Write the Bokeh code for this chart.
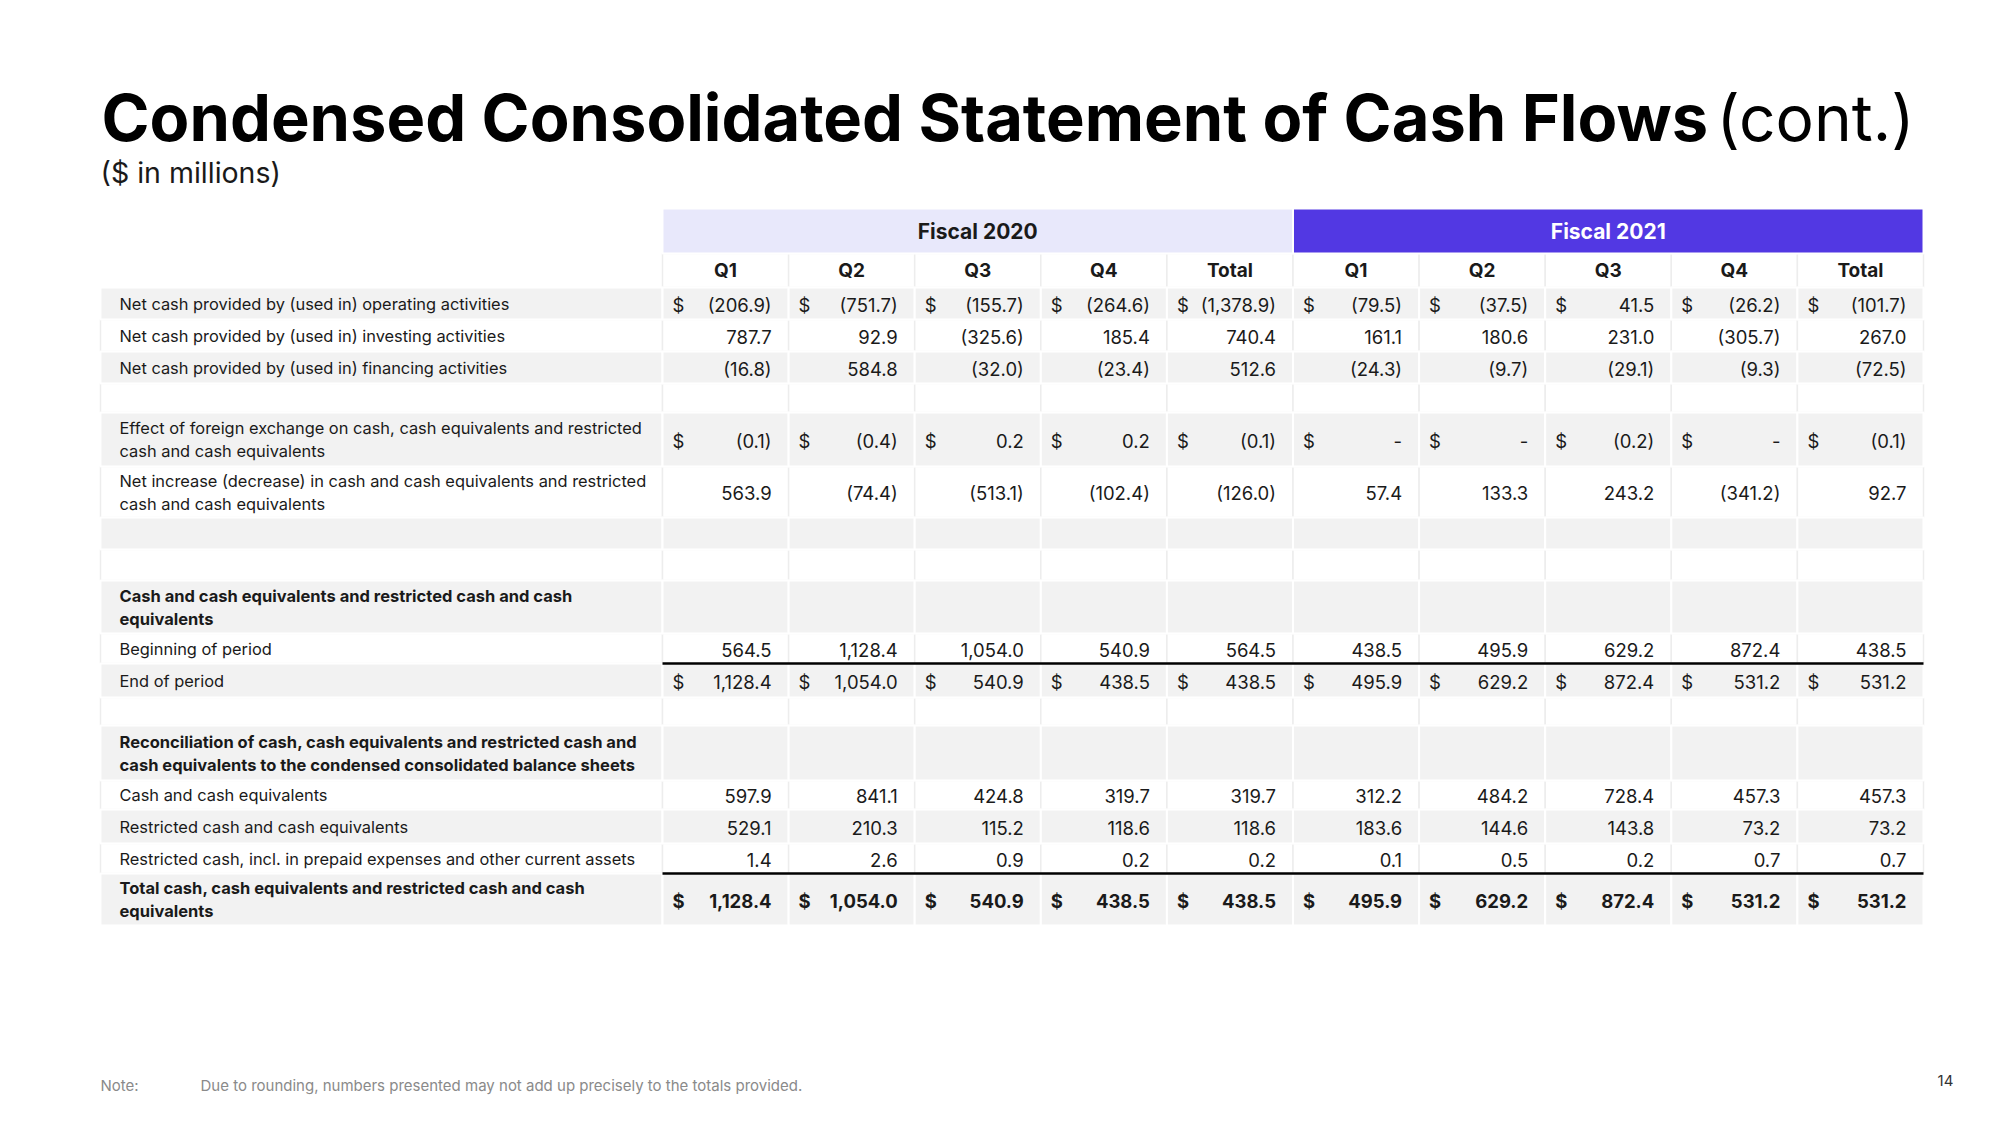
from bokeh.plotting import figure
from bokeh.models import ColumnDataSource, Range1d
from bokeh.core.properties import value
from bokeh.embed import file_html
from bokeh.resources import INLINE

# ---------------- data ----------------
title_main = "Condensed Consolidated Statement of Cash Flows"
title_suffix = "(cont.)"
subtitle = "($ in millions)"
fiscal_years = ["Fiscal 2020", "Fiscal 2021"]
periods = ["Q1", "Q2", "Q3", "Q4", "Total"]
note_label = "Note:"
note_text = "Due to rounding, numbers presented may not add up precisely to the totals provided."
page_number = "14"

operating = [-206.9, -751.7, -155.7, -264.6, -1378.9, -79.5, -37.5, 41.5, -26.2, -101.7]
investing = [787.7, 92.9, -325.6, 185.4, 740.4, 161.1, 180.6, 231.0, -305.7, 267.0]
financing = [-16.8, 584.8, -32.0, -23.4, 512.6, -24.3, -9.7, -29.1, -9.3, -72.5]
fx_effect = [-0.1, -0.4, 0.2, 0.2, -0.1, 0.0, 0.0, -0.2, 0.0, -0.1]
net_change = [563.9, -74.4, -513.1, -102.4, -126.0, 57.4, 133.3, 243.2, -341.2, 92.7]
beginning = [564.5, 1128.4, 1054.0, 540.9, 564.5, 438.5, 495.9, 629.2, 872.4, 438.5]
end_period = [1128.4, 1054.0, 540.9, 438.5, 438.5, 495.9, 629.2, 872.4, 531.2, 531.2]
cash_eq = [597.9, 841.1, 424.8, 319.7, 319.7, 312.2, 484.2, 728.4, 457.3, 457.3]
restricted = [529.1, 210.3, 115.2, 118.6, 118.6, 183.6, 144.6, 143.8, 73.2, 73.2]
restricted_prepaid = [1.4, 2.6, 0.9, 0.2, 0.2, 0.1, 0.5, 0.2, 0.7, 0.7]
total_cash = [1128.4, 1054.0, 540.9, 438.5, 438.5, 495.9, 629.2, 872.4, 531.2, 531.2]

row_labels = [
    ["Net cash provided by (used in) operating activities"],
    ["Net cash provided by (used in) investing activities"],
    ["Net cash provided by (used in) financing activities"],
    [],
    ["Effect of foreign exchange on cash, cash equivalents and restricted", "cash and cash equivalents"],
    ["Net increase (decrease) in cash and cash equivalents and restricted", "cash and cash equivalents"],
    [],
    [],
    ["Cash and cash equivalents and restricted cash and cash", "equivalents"],
    ["Beginning of period"],
    ["End of period"],
    [],
    ["Reconciliation of cash, cash equivalents and restricted cash and", "cash equivalents to the condensed consolidated balance sheets"],
    ["Cash and cash equivalents"],
    ["Restricted cash and cash equivalents"],
    ["Restricted cash, incl. in prepaid expenses and other current assets"],
    ["Total cash, cash equivalents and restricted cash and cash", "equivalents"],
]
row_values = [operating, investing, financing, None, fx_effect, net_change, None, None,
              None, beginning, end_period, None, None, cash_eq, restricted,
              restricted_prepaid, total_cash]
row_bold = [False, False, False, False, False, False, False, False, True, False, False,
            False, True, False, False, False, True]
row_dollar = [True, False, False, False, True, False, False, False, False, False, True,
              False, False, False, False, False, True]

# ---------------- layout ----------------
W, H = 1995, 1120
FONT = value("Inter")
table_left, label_right = 100, 662
col_w = 126.1
n_cols = 10
table_right = label_right + n_cols * col_w
band_top, band_bottom, qrow_bottom = 208, 253, 287
row_heights = [32, 32, 32, 29, 54, 51, 32, 31, 53, 30, 34, 28, 55, 29, 34, 30, 52]
GRAY = "#F2F2F2"
INK = "#1a1a1a"


def fmt(v):
    if v is None:
        return ""
    if v == 0:
        return "-"
    s = f"{abs(v):,.1f}"
    return f"({s})" if v < 0 else s


p = figure(width=W, height=H, output_backend="svg", toolbar_location=None,
           x_range=Range1d(0, W), y_range=Range1d(H, 0),
           x_axis_type=None, y_axis_type=None, min_border=0)
p.outline_line_color = None
p.grid.visible = False
p.background_fill_color = "white"
p.border_fill_color = "white"

# rows geometry
tops = []
y = qrow_bottom
for h in row_heights:
    tops.append(y)
    y += h
bottoms = [t + h for t, h in zip(tops, row_heights)]

col_lefts = [label_right + i * col_w for i in range(n_cols)]
col_rights = [c + col_w for c in col_lefts]

# cell quads
g = dict(l=[], r=[], t=[], b=[])
w = dict(l=[], r=[], t=[], b=[])
for i, (t, b) in enumerate(zip(tops, bottoms)):
    d = g if i % 2 == 0 else w
    lefts = [table_left] + col_lefts
    rights = [label_right] + col_rights
    for L, R in zip(lefts, rights):
        d["l"].append(L); d["r"].append(R); d["t"].append(t); d["b"].append(b)
for L, R in zip(col_lefts, col_rights):
    w["l"].append(L); w["r"].append(R); w["t"].append(band_bottom); w["b"].append(qrow_bottom)

p.quad(left="l", right="r", top="t", bottom="b", source=ColumnDataSource(w),
       fill_color="white", line_color="#EDEDED", line_width=1.5)
p.quad(left="l", right="r", top="t", bottom="b", source=ColumnDataSource(g),
       fill_color=GRAY, line_color="white", line_width=2)

# fiscal year bands
band = ColumnDataSource(dict(l=[col_lefts[0], col_lefts[5]], r=[col_rights[4], col_rights[9]],
                             t=[band_top, band_top], b=[band_bottom, band_bottom],
                             c=["#E8E8FB", "#5238E3"], txt=fiscal_years,
                             x=[(col_lefts[0] + col_rights[4]) / 2, (col_lefts[5] + col_rights[9]) / 2],
                             y=[(band_top + band_bottom) / 2] * 2, tc=[INK, "white"]))
p.quad(left="l", right="r", top="t", bottom="b", source=band, fill_color="c",
       line_color="white", line_width=2)
p.text(x="x", y="y", text="txt", source=band, text_color="tc", text_font=FONT,
       text_font_size="21px", text_font_style="bold", text_align="center", text_baseline="middle")

# period headers
qh = ColumnDataSource(dict(x=[(a + b) / 2 for a, b in zip(col_lefts, col_rights)],
                           y=[(band_bottom + qrow_bottom) / 2] * n_cols,
                           txt=periods * 2))
p.text(x="x", y="y", text="txt", source=qh, text_color=INK, text_font=FONT,
       text_font_size="19px", text_font_style="bold", text_align="center", text_baseline="middle")

# row labels
lab = {False: dict(x=[], y=[], txt=[]), True: dict(x=[], y=[], txt=[])}
for i, lines in enumerate(row_labels):
    c = (tops[i] + bottoms[i]) / 2
    n = len(lines)
    for k, line in enumerate(lines):
        yy = c + (k - (n - 1) / 2) * 23
        d = lab[row_bold[i]]
        d["x"].append(119); d["y"].append(yy); d["txt"].append(line)
for bold, d in lab.items():
    p.text(x="x", y="y", text="txt", source=ColumnDataSource(d), text_color=INK, text_font=FONT,
           text_font_size="16.4px" if not bold else "16.5px",
           text_font_style="bold" if bold else "normal",
           text_align="left", text_baseline="middle")

# values
vals = {False: dict(x=[], y=[], txt=[]), True: dict(x=[], y=[], txt=[])}
dol = {False: dict(x=[], y=[], txt=[]), True: dict(x=[], y=[], txt=[])}
for i, series in enumerate(row_values):
    if series is None:
        continue
    c = (tops[i] + bottoms[i]) / 2 + 1
    bold = row_bold[i]
    for j, v in enumerate(series):
        vals[bold]["x"].append(col_rights[j] - 17); vals[bold]["y"].append(c)
        vals[bold]["txt"].append(fmt(v))
        if row_dollar[i]:
            dol[bold]["x"].append(col_lefts[j] + 10); dol[bold]["y"].append(c)
            dol[bold]["txt"].append("$")
for bold in (False, True):
    st = "bold" if bold else "normal"
    p.text(x="x", y="y", text="txt", source=ColumnDataSource(vals[bold]), text_color=INK,
           text_font=FONT, text_font_size="18.5px", text_font_style=st,
           text_align="right", text_baseline="middle")
    p.text(x="x", y="y", text="txt", source=ColumnDataSource(dol[bold]), text_color=INK,
           text_font=FONT, text_font_size="18.5px", text_font_style=st,
           text_align="left", text_baseline="middle")

# subtotal rules
rules = ColumnDataSource(dict(x0=[label_right, label_right], x1=[table_right, table_right],
                              y0=[tops[10], tops[16]], y1=[tops[10], tops[16]]))
p.segment(x0="x0", y0="y0", x1="x1", y1="y1", source=rules, line_color="black", line_width=2.5)

# titles
p.text(x=[101], y=[117], text=[title_main], text_color="black", text_font=FONT,
       text_font_size="65px", text_font_style="bold", text_align="left", text_baseline="middle")
p.text(x=[1914], y=[117], text=[title_suffix], text_color="black", text_font=FONT,
       text_font_size="64px", text_font_style="normal", text_align="right", text_baseline="middle")
p.text(x=[100], y=[172], text=[subtitle], text_color=INK, text_font=FONT,
       text_font_size="28.5px", text_align="left", text_baseline="middle")

# footer
p.text(x=[100], y=[1085], text=[note_label], text_color="#8a8a8a", text_font=FONT,
       text_font_size="15px", text_align="left", text_baseline="middle")
p.text(x=[200], y=[1085], text=[note_text], text_color="#8a8a8a", text_font=FONT,
       text_font_size="15px", text_align="left", text_baseline="middle")
p.text(x=[1945], y=[1080], text=[page_number], text_color="#333333", text_font=FONT,
       text_font_size="15px", text_align="center", text_baseline="middle")

open("out.html", "w").write(file_html(p, INLINE))
